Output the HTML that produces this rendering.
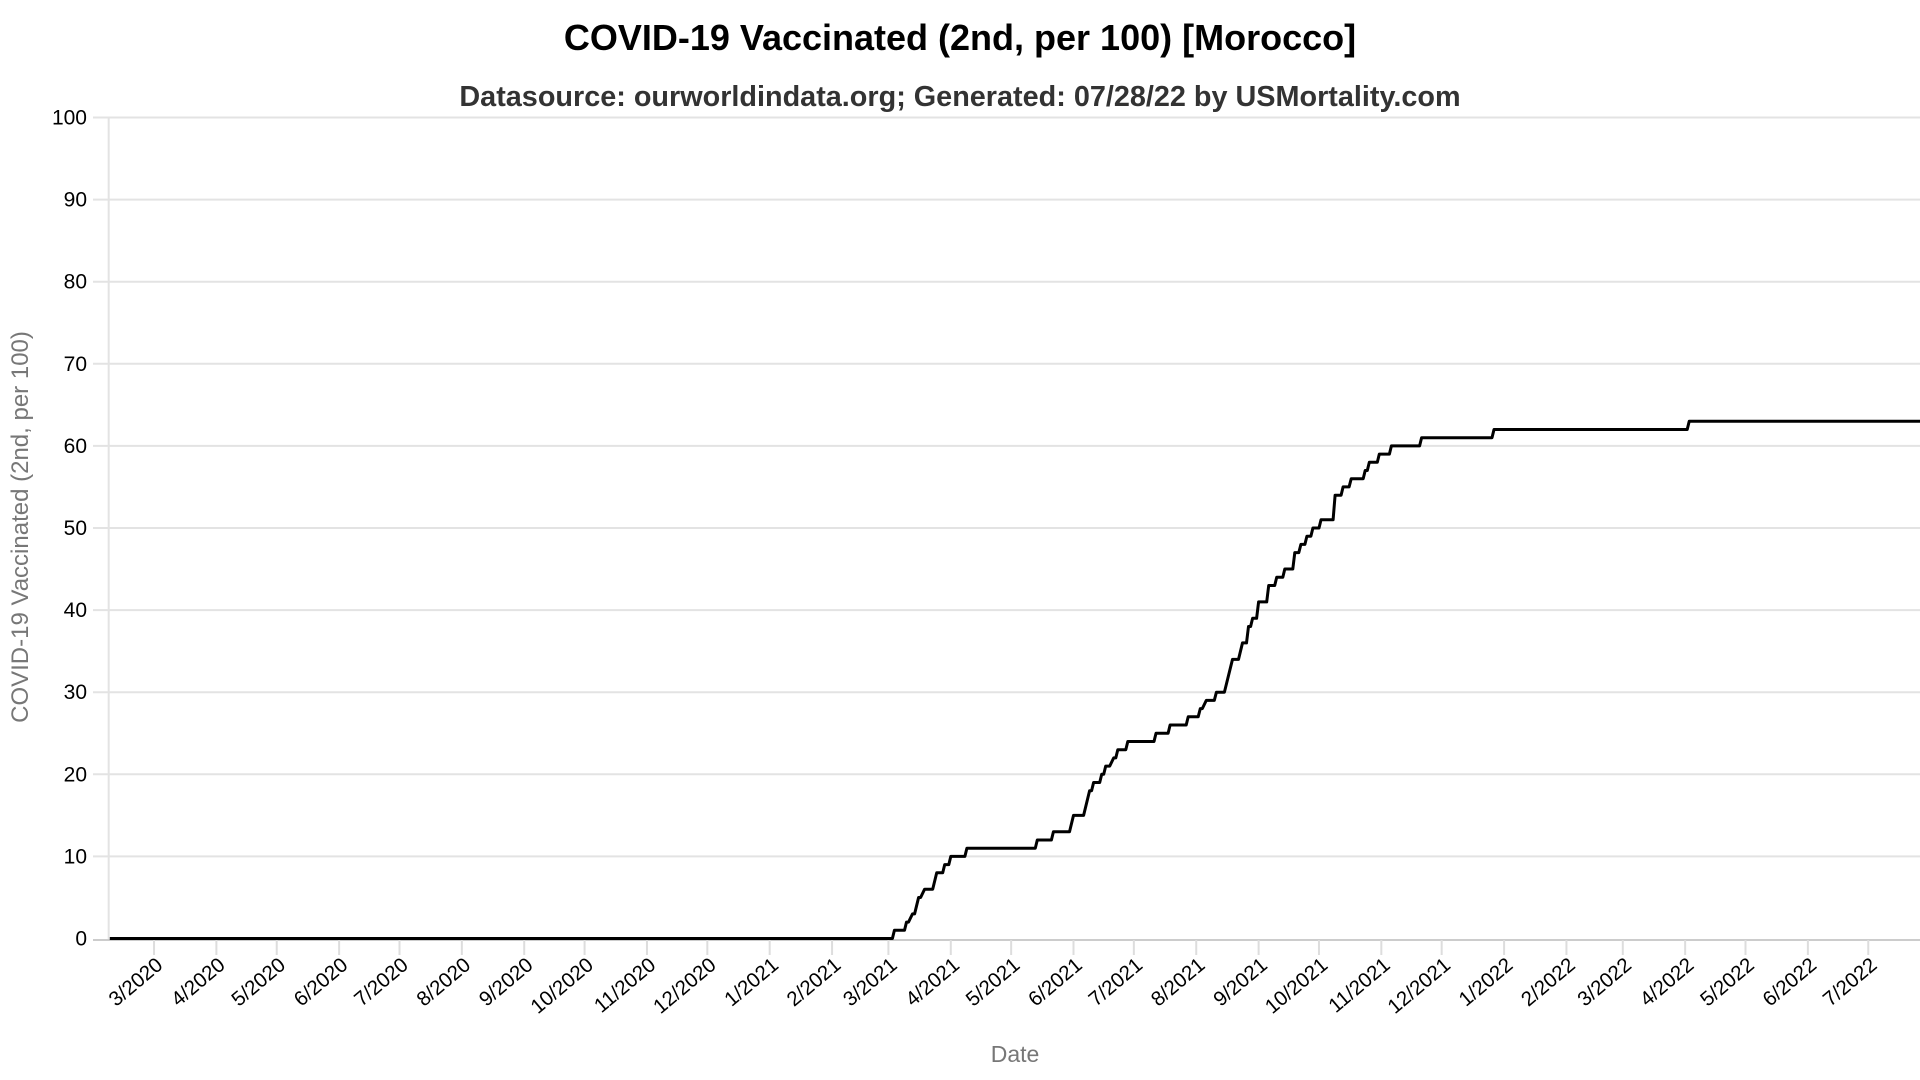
<!DOCTYPE html>
<html><head><meta charset="utf-8"><style>
html,body{margin:0;padding:0;background:#fff;}
svg{display:block;font-family:"Liberation Sans",sans-serif;}
</style></head><body>
<svg id="chart" width="1920" height="1080" viewBox="0 0 1920 1080">
<text x="960" y="50" text-anchor="middle" font-size="36" font-weight="bold" fill="#000">COVID-19 Vaccinated (2nd, per 100) [Morocco]</text>
<text x="960" y="106" text-anchor="middle" font-size="28.8" font-weight="bold" fill="#333">Datasource: ourworldindata.org; Generated: 07/28/22 by USMortality.com</text>
<text transform="translate(28,527) rotate(-90)" text-anchor="middle" font-size="24" fill="#777">COVID-19 Vaccinated (2nd, per 100)</text>
<text x="1015" y="1062" text-anchor="middle" font-size="23" fill="#777">Date</text>
<g id="grid"></g><g id="yticks"></g><g id="xticks"></g><g id="series"></g>
</svg>
<script>
const yTickValues=[0,10,20,30,40,50,60,70,80,90,100];
const xTickDates=["2020-03-01","2020-04-01","2020-05-01","2020-06-01","2020-07-01","2020-08-01","2020-09-01","2020-10-01","2020-11-01","2020-12-01","2021-01-01","2021-02-01","2021-03-01","2021-04-01","2021-05-01","2021-06-01","2021-07-01","2021-08-01","2021-09-01","2021-10-01","2021-11-01","2021-12-01","2022-01-01","2022-02-01","2022-03-01","2022-04-01","2022-05-01","2022-06-01","2022-07-01"];
const xTickLabels=["3/2020","4/2020","5/2020","6/2020","7/2020","8/2020","9/2020","10/2020","11/2020","12/2020","1/2021","2/2021","3/2021","4/2021","5/2021","6/2021","7/2021","8/2021","9/2021","10/2021","11/2021","12/2021","1/2022","2/2022","3/2022","4/2022","5/2022","6/2022","7/2022"];
const levels=[0,1,2,3,5,6,8,9,10,11,12,13,15,18,19,20,21,22,23,24,25,26,27,28,29,30,34,36,38,39,41,43,44,45,47,48,49,50,51,54,55,56,57,58,59,60,61,62,63];
const levelStart=["2020-02-08","2021-03-04","2021-03-10","2021-03-13","2021-03-16","2021-03-19","2021-03-25","2021-03-29","2021-04-01","2021-04-09","2021-05-14","2021-05-22","2021-06-01","2021-06-09","2021-06-11","2021-06-15","2021-06-17","2021-06-21","2021-06-23","2021-06-28","2021-07-12","2021-07-19","2021-07-28","2021-08-03","2021-08-06","2021-08-11","2021-08-19","2021-08-24","2021-08-27","2021-08-29","2021-09-01","2021-09-06","2021-09-10","2021-09-14","2021-09-19","2021-09-22","2021-09-25","2021-09-28","2021-10-02","2021-10-09","2021-10-13","2021-10-17","2021-10-24","2021-10-26","2021-10-31","2021-11-06","2021-11-21","2021-12-27","2022-04-03"];
const levelEnd=["2021-03-03","2021-03-09","2021-03-11","2021-03-14","2021-03-17","2021-03-23","2021-03-28","2021-03-31","2021-04-08","2021-05-13","2021-05-21","2021-05-30","2021-06-06","2021-06-10","2021-06-14","2021-06-16","2021-06-19","2021-06-22","2021-06-27","2021-07-11","2021-07-18","2021-07-27","2021-08-02","2021-08-04","2021-08-10","2021-08-15","2021-08-22","2021-08-26","2021-08-28","2021-08-31","2021-09-05","2021-09-09","2021-09-13","2021-09-18","2021-09-21","2021-09-24","2021-09-27","2021-10-01","2021-10-08","2021-10-12","2021-10-16","2021-10-23","2021-10-25","2021-10-30","2021-11-05","2021-11-20","2021-12-26","2022-04-02","2022-07-27"];

const NS="http://www.w3.org/2000/svg";
const X0=108.7,X1=1920,Y0=938.5,PX_PER_UNIT=8.21;
const refT=Date.UTC(2021,2,1),refX=888.4,PX_PER_DAY=2.012;
function xScale(s){const p=s.split('-').map(Number);return refX+(Date.UTC(p[0],p[1]-1,p[2])-refT)/86400000*PX_PER_DAY;}
function yScale(v){return Y0-v*PX_PER_UNIT;}
function mk(tag,attrs,parent){const e=document.createElementNS(NS,tag);for(const k in attrs)e.setAttribute(k,attrs[k]);parent.appendChild(e);return e;}
const grid=document.getElementById('grid'),yt=document.getElementById('yticks'),xt=document.getElementById('xticks'),ser=document.getElementById('series');
yTickValues.forEach(v=>{
  if(v>0){const l=mk('line',{x1:93,x2:X1,y1:yScale(v),y2:yScale(v),stroke:'#e3e3e3','stroke-width':2},grid);
  
  }
  const t=mk('text',{x:87,y:yScale(v)+7,'text-anchor':'end','font-size':21,fill:'#000'},yt);
  t.textContent=v;
  
  
});
const ya=mk('line',{x1:X0,x2:X0,y1:yScale(100),y2:940,stroke:'#e3e3e3','stroke-width':2},grid);


const xa=mk('line',{x1:93,x2:X1,y1:940,y2:940,stroke:'#ccc','stroke-width':2},grid);


xTickDates.forEach((d,i)=>{
  const x=xScale(d);
  const tk=mk('line',{x1:x,x2:x,y1:940,y2:955,stroke:'#ddd','stroke-width':2},xt);
  
  
  const t=mk('text',{transform:`translate(${x+10},967) rotate(-40)`,'text-anchor':'end','font-size':20.5,fill:'#000'},xt);
  t.textContent=xTickLabels[i];
  
  
});
let pts=[];
levels.forEach((v,i)=>{pts.push(xScale(levelStart[i]).toFixed(1)+','+yScale(v).toFixed(1));pts.push(xScale(levelEnd[i]).toFixed(1)+','+yScale(v).toFixed(1));});
const line=mk('polyline',{points:pts.join(' '),fill:'none',stroke:'#000','stroke-width':3,'stroke-linejoin':'round'},ser);


</script>
</body></html>
